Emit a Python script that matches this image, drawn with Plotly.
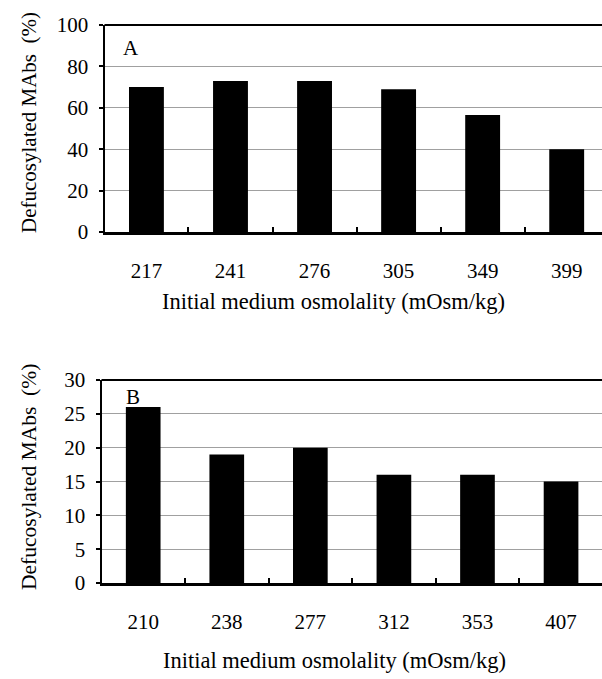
import plotly.graph_objects as go

# Data
osm_a = ["217", "241", "276", "305", "349", "399"]
defuc_a = [70, 73, 73, 69, 56.5, 40]
osm_b = ["210", "238", "277", "312", "353", "407"]
defuc_b = [26, 19, 20, 16, 16, 15]

W, H = 602, 679
FONT = "Liberation Serif, Times New Roman, serif"

def px_x(x):
    return x / W

def px_y(y):
    return 1 - y / H

fig = go.Figure()
fig.add_trace(go.Bar(x=osm_a, y=defuc_a, marker=dict(color="black", line=dict(width=0)),
                     xaxis="x", yaxis="y", showlegend=False))
fig.add_trace(go.Bar(x=osm_b, y=defuc_b, marker=dict(color="black", line=dict(width=0)),
                     xaxis="x2", yaxis="y2", showlegend=False))

tickfont = dict(family=FONT, size=21, color="black")

xcommon = dict(type="category", showline=True, linecolor="black", linewidth=3,
               ticks="inside", tickson="boundaries", ticklen=5, tickwidth=2,
               tickcolor="black", tickfont=tickfont, showgrid=False,
               ticklabelstandoff=18, automargin=False, zeroline=False)
ycommon = dict(showline=True, linecolor="black", linewidth=2, ticks="outside",
               ticklen=4, tickwidth=1.5, tickcolor="black", tickfont=tickfont,
               showgrid=True, gridcolor="#a0a0a0", gridwidth=1.3,
               zeroline=False, automargin=False, ticklabelstandoff=6)

fig.update_layout(
    width=W, height=H,
    margin=dict(l=0, r=0, t=0, b=0),
    paper_bgcolor="white", plot_bgcolor="white",
    bargap=0.585,
    xaxis=dict(**xcommon, domain=[px_x(104.5), 1], range=[-0.499, 5.42], anchor="y"),
    yaxis=dict(**ycommon, domain=[px_y(232), px_y(25)], range=[0, 100], dtick=20, anchor="x"),
    xaxis2=dict(**xcommon, domain=[px_x(101.5), 1], range=[-0.499, 5.49], anchor="y2"),
    yaxis2=dict(**ycommon, domain=[px_y(583), px_y(380)], range=[0, 30], dtick=5, anchor="x2"),
)

# top frame lines
for xr, yr in (("x domain", "y domain"), ("x2 domain", "y2 domain")):
    fig.add_shape(type="line", xref=xr, yref=yr, x0=0, x1=1, y0=1, y1=1,
                  line=dict(color="black", width=2))

ann = [
    dict(text="A", x=px_x(131), y=px_y(48), size=21),
    dict(text="B", x=px_x(133), y=px_y(397), size=21),
    dict(text="Initial medium osmolality (mOsm/kg)", x=px_x(333), y=px_y(301), size=22.5),
    dict(text="Initial medium osmolality (mOsm/kg)", x=px_x(334), y=px_y(660), size=22.5),
    dict(text="Defucosylated MAbs\u00a0\u00a0(%)", x=px_x(29), y=px_y(123), textangle=-90, size=21),
    dict(text="Defucosylated MAbs\u00a0\u00a0(%)", x=px_x(29), y=px_y(477), textangle=-90, size=21.5),
]
for a in ann:
    size = a.pop("size")
    fig.add_annotation(xref="paper", yref="paper", showarrow=False,
                       xanchor="center", yanchor="middle",
                       font=dict(family=FONT, size=size, color="black"), **a)

fig.write_html("out.html", config={"displayModeBar": False},
               post_script="document.body.style.margin='0';")
